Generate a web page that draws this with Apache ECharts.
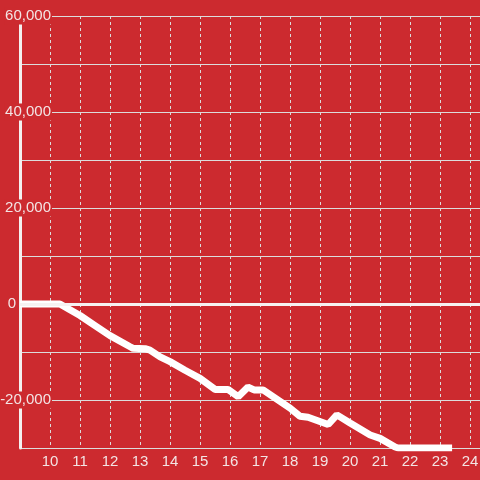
<!DOCTYPE html>
<html>
<head>
<meta charset="utf-8">
<script src="https://cdn.jsdelivr.net/npm/echarts@6/dist/echarts.min.js"></script>
<style>
  html, body { margin: 0; padding: 0; background: #cc2a2f; }
  #chart { width: 480px; height: 480px; }
</style>
</head>
<body>
<div id="chart"></div>
<script>
const hours = [9, 10.33, 11, 11.5, 12, 12.67, 12.77, 13.17, 13.33, 13.67, 14, 14.5, 15, 15.5, 15.93, 16.27, 16.6, 16.8, 17.1, 18, 18.33, 18.6, 19.27, 19.56, 20, 20.67, 21, 21.5, 21.6, 23.4]
const balance = [0, 0, -2400, -4500, -6600, -8900, -9240, -9300, -9600, -11000, -12000, -13800, -15500, -17800, -17800, -19300, -17300, -17900, -17900, -21700, -23400, -23600, -25100, -23100, -24800, -27300, -28000, -29800, -30000, -30000]
const yLabels = [60000, 40000, 20000, 0, -20000]

const chart = echarts.init(document.getElementById('chart'))

const textColor = '#f3e4e4'
const gridColor = '#dcdcdc'

chart.setOption({
  backgroundColor: '#cc2a2f',
  animation: false,
  grid: { left: 20, right: 0, top: 16, bottom: 32, containLabel: false, outerBoundsMode: 'none' },
  xAxis: {
    type: 'value',
    min: 9,
    max: 24.33,
    interval: 1,
    axisLine: { show: false },
    axisTick: { show: false },
    axisLabel: {
      color: textColor,
      fontSize: 15,
      fontFamily: 'Liberation Sans',
      margin: 6,
      showMinLabel: false,
      formatter: (v) => (Number.isInteger(v) && v > 9 ? String(v) : ''),
    },
    splitLine: { show: true, lineStyle: { color: gridColor, type: [3, 3], width: 1 } },
  },
  yAxis: {
    type: 'value',
    min: -30000,
    max: 60000,
    interval: 10000,
    axisLine: { show: true, onZero: false, lineStyle: { color: '#f4f0f0', width: 3 } },
    axisTick: { show: false },
    axisLabel: {
      align: 'right',
      margin: -32,
      fontFamily: 'Liberation Sans',
      formatter: (v) => {
        if (!yLabels.includes(v)) return ''
        if (v === 0) return '{z|0}'
        return '{b|' + v.toLocaleString('en-US') + '}'
      },
      rich: {
        b: { color: textColor, fontSize: 15, backgroundColor: '#cc2a2f', padding: [1, 1, 1, 1] },
        z: { color: textColor, fontSize: 15, padding: [0, 36, 0, 0] },
      },
    },
    splitLine: { show: true, lineStyle: { color: gridColor, width: 1 } },
  },
  series: [
    {
      type: 'line',
      data: hours.map((h, i) => [h, balance[i]]),
      symbol: 'none',
      lineStyle: { color: '#ffffff', width: 7 },
      markLine: {
        silent: true,
        symbol: 'none',
        label: { show: false },
        lineStyle: { color: '#f6f2f2', width: 3, type: 'solid' },
        data: [{ yAxis: 0 }],
      },
    },
  ],
})
</script>
</body>
</html>
